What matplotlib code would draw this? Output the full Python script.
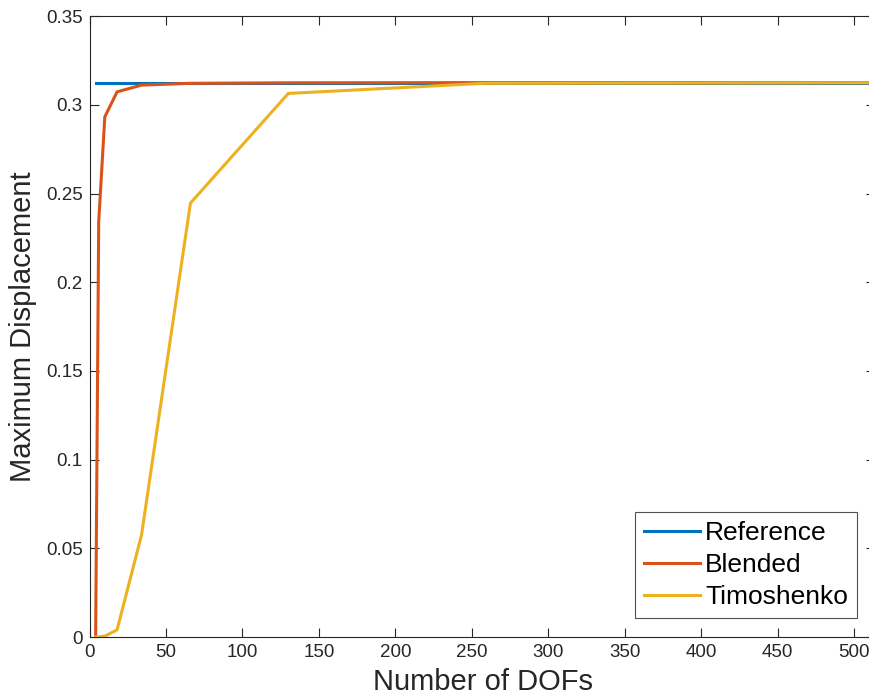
import numpy as np
import matplotlib.pyplot as plt

plt.rcParams['font.family'] = ['Liberation Sans', 'DejaVu Sans']

dofs = [4, 6, 10, 18, 34, 66, 130, 258, 514]
reference = [0.3125] * len(dofs)
blended = [0.0, 0.234, 0.2932, 0.3073, 0.3111, 0.3121, 0.3124, 0.3125, 0.3125]
timoshenko = [0.0, 0.0, 0.0005, 0.004, 0.0575, 0.2446, 0.3064, 0.3121, 0.3124]

yticks = [0, 0.05, 0.1, 0.15, 0.2, 0.25, 0.3, 0.35]
ytick_labels = ['0', '0.05', '0.1', '0.15', '0.2', '0.25', '0.3', '0.35']
xticks = list(range(0, 501, 50))

fig = plt.figure(figsize=(8.7, 7.0), dpi=100)
ax = fig.add_axes([0.1029, 0.09, 0.9034, 0.887])

ax.plot(dofs, reference, color='#0072BD', lw=2.2, label='Reference')
ax.plot(dofs, blended, color='#D95319', lw=2.2, label='Blended')
ax.plot(dofs, timoshenko, color='#EDB120', lw=2.2, label='Timoshenko')

ax.set_xlim(0, 514)
ax.set_ylim(0, 0.35)
ax.set_xticks(xticks)
ax.set_yticks(yticks)
ax.set_yticklabels(ytick_labels)

edge = '#262626'
for s in ax.spines.values():
    s.set_color(edge)
    s.set_linewidth(0.8)
ax.tick_params(direction='in', length=6.5, width=0.8, colors=edge,
               labelsize=13.5, top=True, right=True, pad=5)
for lab in ax.get_xticklabels() + ax.get_yticklabels():
    lab.set_color(edge)

ax.set_xlabel('Number of DOFs', fontsize=21, color=edge, labelpad=5)
ax.set_ylabel('Maximum Displacement', fontsize=21, color=edge, labelpad=6)

leg = ax.legend(loc='lower right', bbox_to_anchor=(0.9765, 0.0306), fontsize=19,
                frameon=True, fancybox=False, handlelength=2.1, handletextpad=0.2,
                borderpad=0.35, labelspacing=0.3, borderaxespad=0)
leg.get_frame().set_edgecolor(edge)
leg.get_frame().set_linewidth(0.8)

fig.savefig('out.png', dpi=100)
